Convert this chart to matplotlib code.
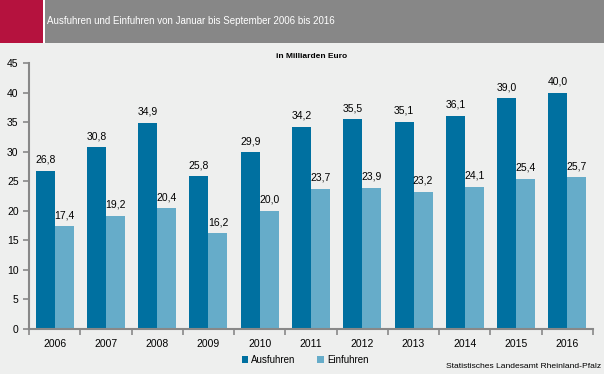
import matplotlib
matplotlib.use("Agg")
import matplotlib.pyplot as plt
import numpy as np
from matplotlib.patches import Rectangle

plt.rcParams['font.family'] = ['Liberation Sans', 'DejaVu Sans']

# Données
jahre = ["2006", "2007", "2008", "2009", "2010", "2011", "2012", "2013", "2014", "2015", "2016"]
ausfuhren = [26.8, 30.8, 34.9, 25.8, 29.9, 34.2, 35.5, 35.1, 36.1, 39.0, 40.0]
einfuhren = [17.4, 19.2, 20.4, 16.2, 20.0, 23.7, 23.9, 23.2, 24.1, 25.4, 25.7]

bg = "#eeefee"
dunkel = "#0070a0"
hell = "#66acc9"
grau = "#888888"

fig = plt.figure(figsize=(6.04, 3.74), dpi=100, facecolor=bg)

# Kopfzeile
fig.patches.append(Rectangle((0, 1 - 43 / 374), 1, 43 / 374, transform=fig.transFigure,
                             facecolor="white", edgecolor="none"))
fig.patches.append(Rectangle((0, 1 - 43 / 374), 43.5 / 604, 43 / 374, transform=fig.transFigure,
                             facecolor="#b5123e", edgecolor="none"))
fig.patches.append(Rectangle((45 / 604, 1 - 43 / 374), 1 - 45 / 604, 43 / 374, transform=fig.transFigure,
                             facecolor="#878787", edgecolor="none"))
fig.text(47 / 604, 1 - 21 / 374, "Ausfuhren und Einfuhren von Januar bis September 2006 bis 2016",
         color="white", fontsize=7, va="center", ha="left")
fig.text(312 / 604, 1 - 56 / 374, "in Milliarden Euro", fontsize=6, fontweight="bold",
         ha="center", va="center")

ax = fig.add_axes([29 / 604, 1 - 329 / 374, 564 / 604, 266 / 374])
ax.set_facecolor(bg)

x = np.arange(len(jahre))
w = 0.37
b1 = ax.bar(x - w / 2, ausfuhren, w, color=dunkel, label="Ausfuhren")
b2 = ax.bar(x + w / 2, einfuhren, w, color=hell, label="Einfuhren")

for rects, vals in ((b1, ausfuhren), (b2, einfuhren)):
    for r, v in zip(rects, vals):
        ax.text(r.get_x() + r.get_width() / 2, v + 1.0, f"{v:.1f}".replace(".", ","),
                ha="center", va="bottom", fontsize=7.5)

ax.set_xlim(-0.5, len(jahre) - 0.5)
ax.set_ylim(0, 45)
ax.set_yticks(range(0, 46, 5))
ax.set_xticks(np.arange(-0.5, len(jahre), 1.0))
ax.set_xticklabels([])
ax.set_xticks(x, minor=True)
ax.set_xticklabels(jahre, minor=True)
ax.tick_params(axis="x", which="major", length=4, color=grau, width=1.2)
ax.tick_params(axis="x", which="minor", length=0, labelsize=7.5, pad=7)
ax.tick_params(axis="y", length=4, color=grau, width=1.2, labelsize=7.5, pad=3.5)
for s in ("top", "right"):
    ax.spines[s].set_visible(False)
for s in ("left", "bottom"):
    ax.spines[s].set_color(grau)
    ax.spines[s].set_linewidth(1.5)

fig.legend(handles=[b1, b2], loc="center", bbox_to_anchor=(305 / 604, 1 - 360 / 374), ncol=2,
           frameon=False, fontsize=7, handlelength=0.7, handleheight=0.7, handletextpad=0.3,
           columnspacing=2.2)

fig.text(601 / 604, 1 - 366 / 374, "Statistisches Landesamt Rheinland-Pfalz", fontsize=6.1,
         ha="right", va="center")

fig.savefig("out.png", dpi=100, facecolor=bg)
